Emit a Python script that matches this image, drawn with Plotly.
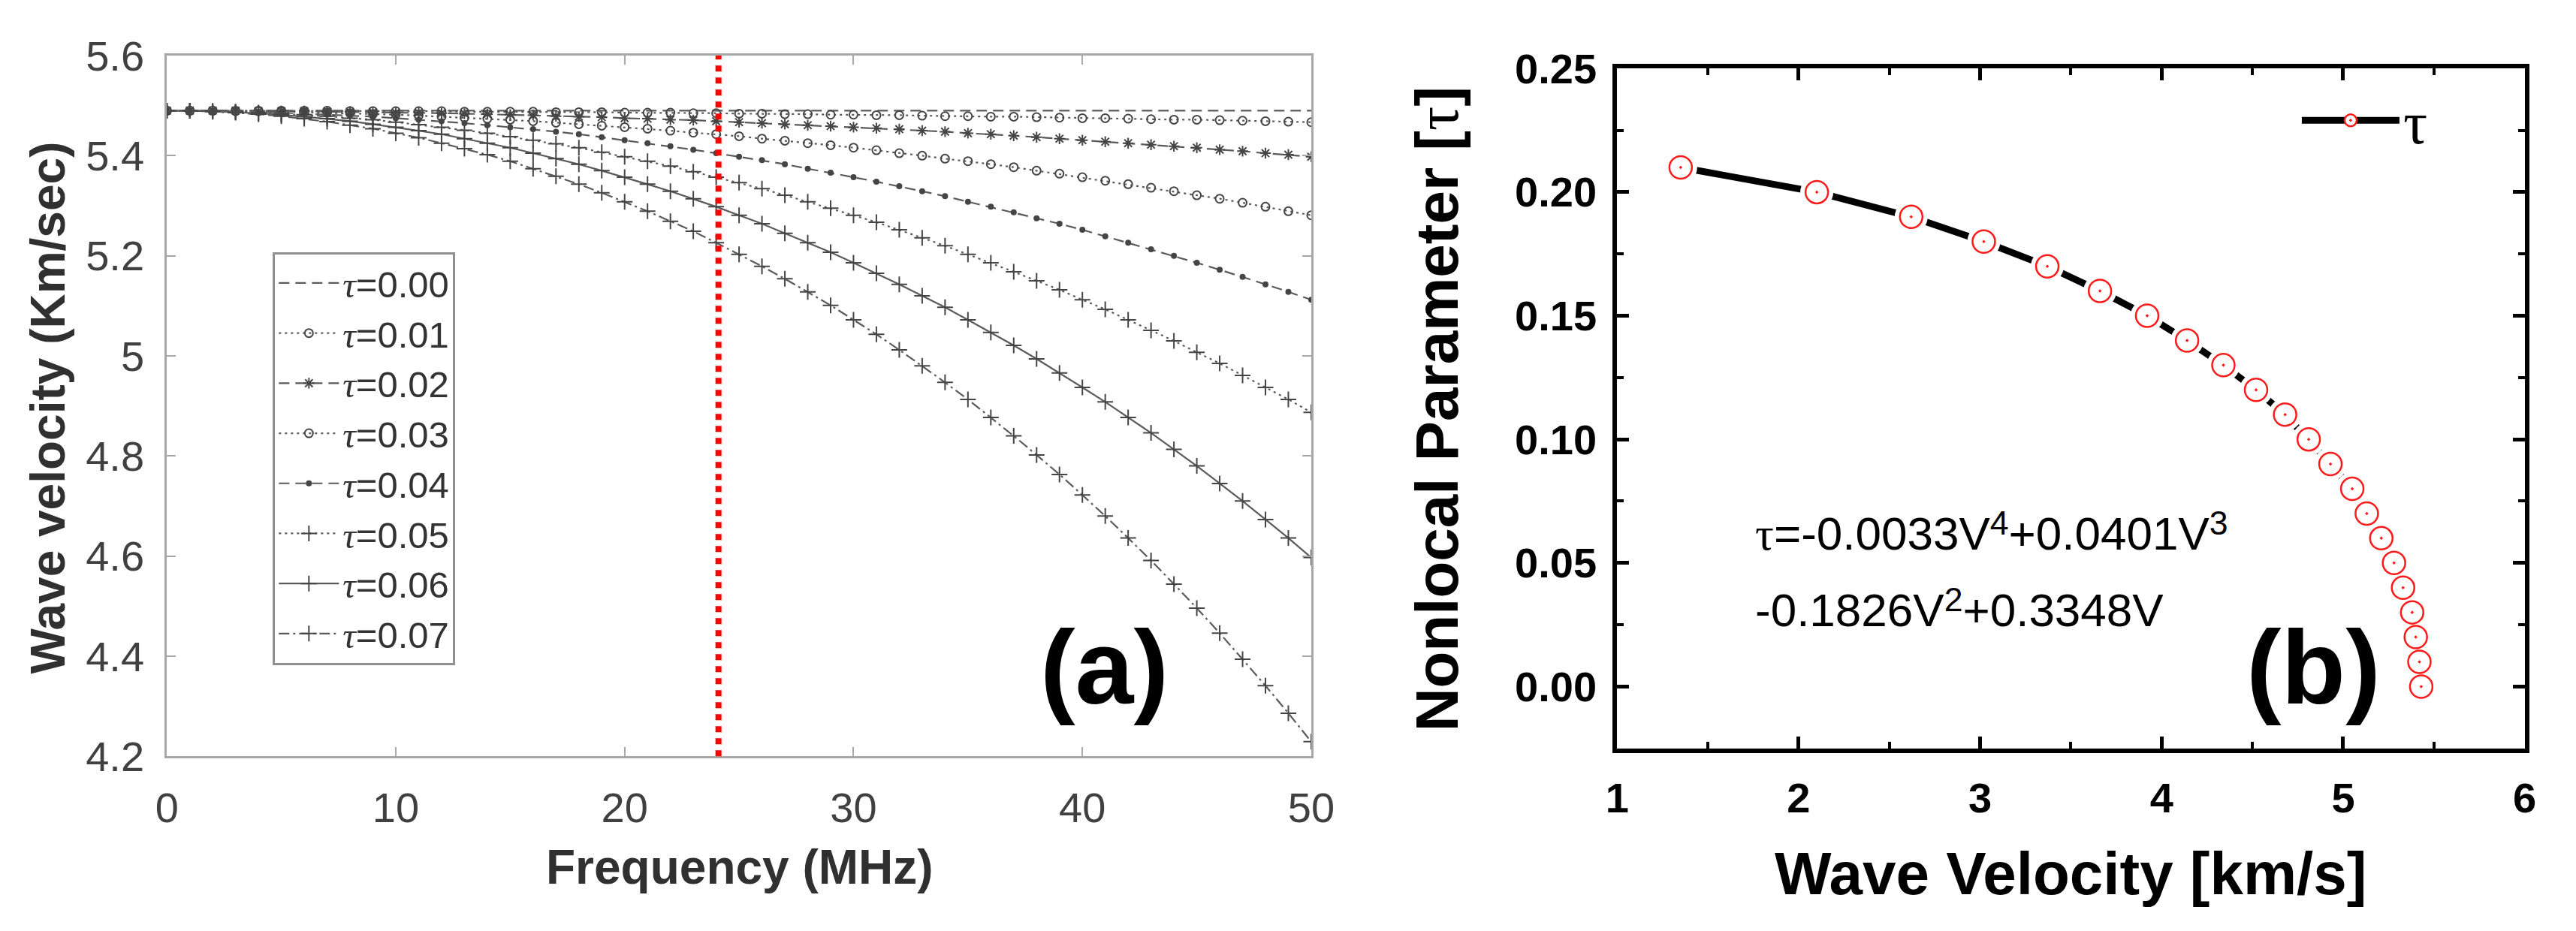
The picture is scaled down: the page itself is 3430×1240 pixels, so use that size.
import plotly.graph_objects as go

# ---- panel (a): wave velocity vs frequency ----
freq_mhz = [0, 1, 2, 3, 4, 5, 6, 7, 8, 9, 10, 11, 12, 13, 14, 15, 16, 17, 18, 19,
            20, 21, 22, 23, 24, 25, 26, 27, 28, 29, 30, 31, 32, 33, 34, 35, 36, 37, 38, 39,
            40, 41, 42, 43, 44, 45, 46, 47, 48, 49, 50]

tau_labels = ['0.00', '0.01', '0.02', '0.03', '0.04', '0.05', '0.06', '0.07']

v_tau000 = [5.490, 5.490, 5.490, 5.490, 5.490, 5.490, 5.490, 5.490, 5.490, 5.490,
            5.490, 5.490, 5.490, 5.490, 5.490, 5.490, 5.490, 5.490, 5.490, 5.490,
            5.490, 5.490, 5.490, 5.490, 5.490, 5.490, 5.490, 5.490, 5.490, 5.490,
            5.490, 5.490, 5.490, 5.490, 5.490, 5.490, 5.490, 5.490, 5.490, 5.490,
            5.490, 5.490, 5.490, 5.490, 5.490, 5.490, 5.490, 5.490, 5.490, 5.490,
            5.490]
v_tau001 = [5.490, 5.490, 5.490, 5.490, 5.490, 5.490, 5.490, 5.490, 5.489, 5.489,
            5.489, 5.489, 5.489, 5.488, 5.488, 5.488, 5.488, 5.487, 5.487, 5.487,
            5.486, 5.486, 5.486, 5.485, 5.485, 5.484, 5.484, 5.483, 5.483, 5.482,
            5.482, 5.481, 5.481, 5.480, 5.479, 5.479, 5.478, 5.478, 5.477, 5.476,
            5.475, 5.475, 5.474, 5.473, 5.472, 5.472, 5.471, 5.470, 5.469, 5.468,
            5.467]
v_tau002 = [5.490, 5.490, 5.490, 5.490, 5.489, 5.489, 5.489, 5.488, 5.488, 5.487,
            5.486, 5.486, 5.485, 5.484, 5.483, 5.482, 5.481, 5.479, 5.478, 5.477,
            5.475, 5.474, 5.472, 5.471, 5.469, 5.467, 5.465, 5.463, 5.461, 5.459,
            5.457, 5.455, 5.453, 5.450, 5.448, 5.445, 5.443, 5.440, 5.437, 5.434,
            5.431, 5.428, 5.425, 5.422, 5.419, 5.416, 5.412, 5.409, 5.405, 5.402,
            5.398]
v_tau003 = [5.490, 5.490, 5.490, 5.489, 5.489, 5.488, 5.487, 5.486, 5.485, 5.483,
            5.482, 5.480, 5.478, 5.476, 5.474, 5.472, 5.469, 5.466, 5.463, 5.460,
            5.457, 5.454, 5.450, 5.446, 5.443, 5.439, 5.434, 5.430, 5.425, 5.421,
            5.416, 5.411, 5.405, 5.400, 5.394, 5.389, 5.383, 5.377, 5.370, 5.364,
            5.357, 5.350, 5.343, 5.336, 5.329, 5.321, 5.314, 5.306, 5.298, 5.289,
            5.281]
v_tau004 = [5.490, 5.490, 5.489, 5.489, 5.488, 5.486, 5.485, 5.483, 5.481, 5.478,
            5.475, 5.472, 5.469, 5.465, 5.461, 5.457, 5.453, 5.448, 5.443, 5.437,
            5.431, 5.425, 5.419, 5.412, 5.405, 5.398, 5.391, 5.383, 5.374, 5.366,
            5.357, 5.348, 5.339, 5.329, 5.319, 5.308, 5.298, 5.287, 5.275, 5.264,
            5.252, 5.239, 5.226, 5.213, 5.200, 5.186, 5.172, 5.158, 5.143, 5.128,
            5.112]
v_tau005 = [5.490, 5.490, 5.489, 5.488, 5.486, 5.484, 5.482, 5.479, 5.475, 5.472,
            5.467, 5.462, 5.457, 5.451, 5.445, 5.438, 5.431, 5.424, 5.416, 5.407,
            5.398, 5.389, 5.379, 5.368, 5.357, 5.346, 5.334, 5.321, 5.308, 5.295,
            5.281, 5.267, 5.252, 5.236, 5.220, 5.203, 5.186, 5.168, 5.150, 5.132,
            5.112, 5.093, 5.072, 5.051, 5.030, 5.007, 4.985, 4.961, 4.937, 4.913,
            4.887]
v_tau006 = [5.490, 5.490, 5.489, 5.487, 5.485, 5.482, 5.478, 5.474, 5.469, 5.463,
            5.457, 5.450, 5.443, 5.434, 5.425, 5.416, 5.405, 5.394, 5.383, 5.370,
            5.357, 5.343, 5.329, 5.314, 5.298, 5.281, 5.264, 5.245, 5.226, 5.207,
            5.186, 5.165, 5.143, 5.120, 5.097, 5.072, 5.047, 5.021, 4.994, 4.966,
            4.937, 4.908, 4.877, 4.846, 4.813, 4.780, 4.745, 4.710, 4.673, 4.636,
            4.597]
v_tau007 = [5.490, 5.490, 5.488, 5.486, 5.483, 5.479, 5.474, 5.468, 5.461, 5.454,
            5.445, 5.436, 5.425, 5.414, 5.402, 5.389, 5.374, 5.359, 5.343, 5.326,
            5.308, 5.289, 5.269, 5.249, 5.226, 5.203, 5.179, 5.154, 5.128, 5.101,
            5.072, 5.043, 5.012, 4.980, 4.947, 4.913, 4.877, 4.840, 4.802, 4.763,
            4.722, 4.680, 4.636, 4.591, 4.544, 4.496, 4.446, 4.394, 4.341, 4.286,
            4.229]

marker_freq = 24.1

# ---- panel (b): nonlocal parameter vs wave velocity ----
wave_velocity = [1.35, 2.10, 2.62, 3.02, 3.37, 3.66, 3.92, 4.14, 4.34, 4.52, 4.68,
                 4.81, 4.93, 5.05, 5.13, 5.21, 5.28, 5.33, 5.38, 5.40, 5.42, 5.43]
nonlocal_tau = [0.21, 0.20, 0.19, 0.18, 0.17, 0.16, 0.15, 0.14, 0.13, 0.12, 0.11,
                0.10, 0.09, 0.08, 0.07, 0.06, 0.05, 0.04, 0.03, 0.02, 0.01, 0.00]

SANS = 'Liberation Sans'
SERIF = 'Liberation Serif'
TAU = '<span style="font-family:Liberation Serif">τ</span>'
TAU_I = '<span style="font-family:Liberation Serif"><i>τ</i></span>'


def sup(t):
    # raised, smaller exponent without plotly's zero-width reset spans
    return '<span style="font-size:72%;baseline-shift:45%">' + t + '</span>'


fig = go.Figure()

# line style for each tau curve (MATLAB style: --, :o, --*, :o, --., :+, -+, -.+)
curve_styles = [
    dict(mode='lines', dash='14px,8px', symbol=None, size=0),
    dict(mode='lines+markers', dash='3px,5px', symbol='circle-open', size=11),
    dict(mode='lines+markers', dash='14px,8px', symbol='asterisk-open', size=12),
    dict(mode='lines+markers', dash='3px,5px', symbol='circle-open', size=11),
    dict(mode='lines+markers', dash='14px,8px', symbol='circle', size=6),
    dict(mode='lines+markers', dash='3px,5px', symbol='cross-thin-open', size=15),
    dict(mode='lines+markers', dash='solid', symbol='cross-thin-open', size=15),
    dict(mode='lines+markers', dash='14px,5px,3px,5px', symbol='cross-thin-open', size=15),
]
curves = [v_tau000, v_tau001, v_tau002, v_tau003, v_tau004, v_tau005, v_tau006, v_tau007]

for label, vals, st in zip(tau_labels, curves, curve_styles):
    marker = None
    if st['symbol']:
        marker = dict(symbol=st['symbol'], size=st['size'], color='#454545',
                      line=dict(color='#454545', width=2))
    fig.add_trace(go.Scatter(
        x=freq_mhz, y=vals, mode=st['mode'], name=TAU_I + '=' + label,
        line=dict(color='#5a5a5a', width=2.2, dash=st['dash']),
        marker=marker, xaxis='x', yaxis='y', legend='legend'))

# panel (b) traces: line, white gaps around symbols, red circles
fig.add_trace(go.Scatter(
    x=wave_velocity, y=nonlocal_tau, mode='lines', showlegend=False,
    line=dict(color='black', width=9), xaxis='x2', yaxis='y2', hoverinfo='skip'))
fig.add_trace(go.Scatter(
    x=wave_velocity, y=nonlocal_tau, mode='markers', showlegend=False,
    marker=dict(symbol='circle', size=44, color='white'),
    xaxis='x2', yaxis='y2', hoverinfo='skip'))
fig.add_trace(go.Scatter(
    x=wave_velocity, y=nonlocal_tau, mode='markers', showlegend=False,
    marker=dict(symbol='circle-dot', size=30, color='white',
                line=dict(color='#ff1a1a', width=2.5)),
    xaxis='x2', yaxis='y2'))
# legend entry for panel (b)
fig.add_trace(go.Scatter(
    x=[None], y=[None], mode='lines+markers', name='τ',
    line=dict(color='black', width=9),
    marker=dict(symbol='circle-dot', size=30, color='white',
                line=dict(color='#ff1a1a', width=2.5)),
    xaxis='x2', yaxis='y2', legend='legend2'))

# red dotted marker line at the chosen frequency
fig.add_shape(type='line', xref='x', yref='y domain',
              x0=marker_freq, x1=marker_freq, y0=0, y1=1,
              line=dict(color='#ff0000', width=8, dash='8px,8px'))

grey_axis = dict(showline=True, linecolor='#a8a8a8', linewidth=3, mirror='ticks',
                 ticks='inside', ticklen=12, tickwidth=2, tickcolor='#a8a8a8',
                 showgrid=False, zeroline=False,
                 tickfont=dict(family=SANS, size=56, color='#404040'))
black_axis = dict(showline=True, linecolor='black', linewidth=6, mirror='ticks',
                  ticks='inside', ticklen=16, tickwidth=5, tickcolor='black',
                  showgrid=False, zeroline=False,
                  tickfont=dict(family=SANS, size=56, color='black', weight='bold'))

fig.update_layout(
    width=3430, height=1240,
    margin=dict(l=0, r=0, t=0, b=0),
    paper_bgcolor='white', plot_bgcolor='white',
    font=dict(family=SANS),
    xaxis=dict(domain=[0.0586, 0.509], range=[0, 50], dtick=10, anchor='y',
               ticklabelstandoff=18, **grey_axis),
    yaxis=dict(domain=[0.1774, 0.9702], range=[4.2, 5.6], dtick=0.2, anchor='x',
               ticklabelstandoff=16, **grey_axis),
    xaxis2=dict(domain=[0.6294, 0.9866], range=[1, 6], dtick=1, anchor='y2',
                ticklabelstandoff=12,
                minor=dict(dtick=0.5, ticks='inside', ticklen=9, tickwidth=4,
                           tickcolor='black'),
                **black_axis),
    yaxis2=dict(domain=[0.1863, 0.9556], range=[-0.025, 0.25], tick0=0, dtick=0.05,
                tickformat='.2f', anchor='x2', ticklabelstandoff=10,
                minor=dict(dtick=0.025, ticks='inside', ticklen=9, tickwidth=4,
                           tickcolor='black'),
                **black_axis),
    legend=dict(x=0.1003, y=0.748, xanchor='left', yanchor='top',
                bgcolor='white', bordercolor='#909090', borderwidth=3,
                itemwidth=80,
                font=dict(family=SANS, size=49, color='#333333'),
                tracegroupgap=0),
    legend2=dict(x=0.8974, y=0.897, xanchor='left', yanchor='middle',
                 bgcolor='rgba(0,0,0,0)', borderwidth=0, itemwidth=130,
                 font=dict(family=SERIF, size=80, color='black')),
    showlegend=True,
)

annotations = [
    dict(text='Frequency (MHz)', x=0.284, y=0.0516, xref='paper', yref='paper',
         showarrow=False, xanchor='center', yanchor='middle',
         font=dict(family=SANS, size=64, color='#303030', weight='bold')),
    dict(text='Wave velocity (Km/sec)', x=0.0117, y=0.5718, xref='paper', yref='paper',
         showarrow=False, textangle=-90, xanchor='center', yanchor='middle',
         font=dict(family=SANS, size=64, color='#303030', weight='bold')),
    dict(text='Wave Velocity [km/s]', x=0.8079, y=0.0445, xref='paper', yref='paper',
         showarrow=False, xanchor='center', yanchor='middle',
         font=dict(family=SANS, size=80, color='black', weight='bold')),
    dict(text='Nonlocal Parameter [<span style="font-family:Liberation Serif;font-weight:normal">τ</span>]',
         x=0.5585, y=0.5702, xref='paper', yref='paper',
         showarrow=False, textangle=-90, xanchor='center', yanchor='middle',
         font=dict(family=SANS, size=80, color='black', weight='bold')),
    dict(text=TAU + '=-0.0033V' + sup('4') + '+0.0401V' + sup('3'), x=1.75, y=0.0624,
         xref='x2', yref='y2', showarrow=False, xanchor='left', yanchor='middle',
         font=dict(family=SANS, size=62, color='black')),
    dict(text='-0.1826V' + sup('2') + '+0.3348V', x=1.75, y=0.0316,
         xref='x2', yref='y2', showarrow=False, xanchor='left', yanchor='middle',
         font=dict(family=SANS, size=62, color='black')),
    dict(text='(a)', x=0.4277, y=0.2782, xref='paper', yref='paper',
         showarrow=False, xanchor='center', yanchor='middle',
         font=dict(family=SANS, size=140, color='black', weight='bold')),
    dict(text='(b)', x=0.9035, y=0.2782, xref='paper', yref='paper',
         showarrow=False, xanchor='center', yanchor='middle',
         font=dict(family=SANS, size=140, color='black', weight='bold')),
]
fig.update_layout(annotations=annotations)

fig.write_html('out.html')
